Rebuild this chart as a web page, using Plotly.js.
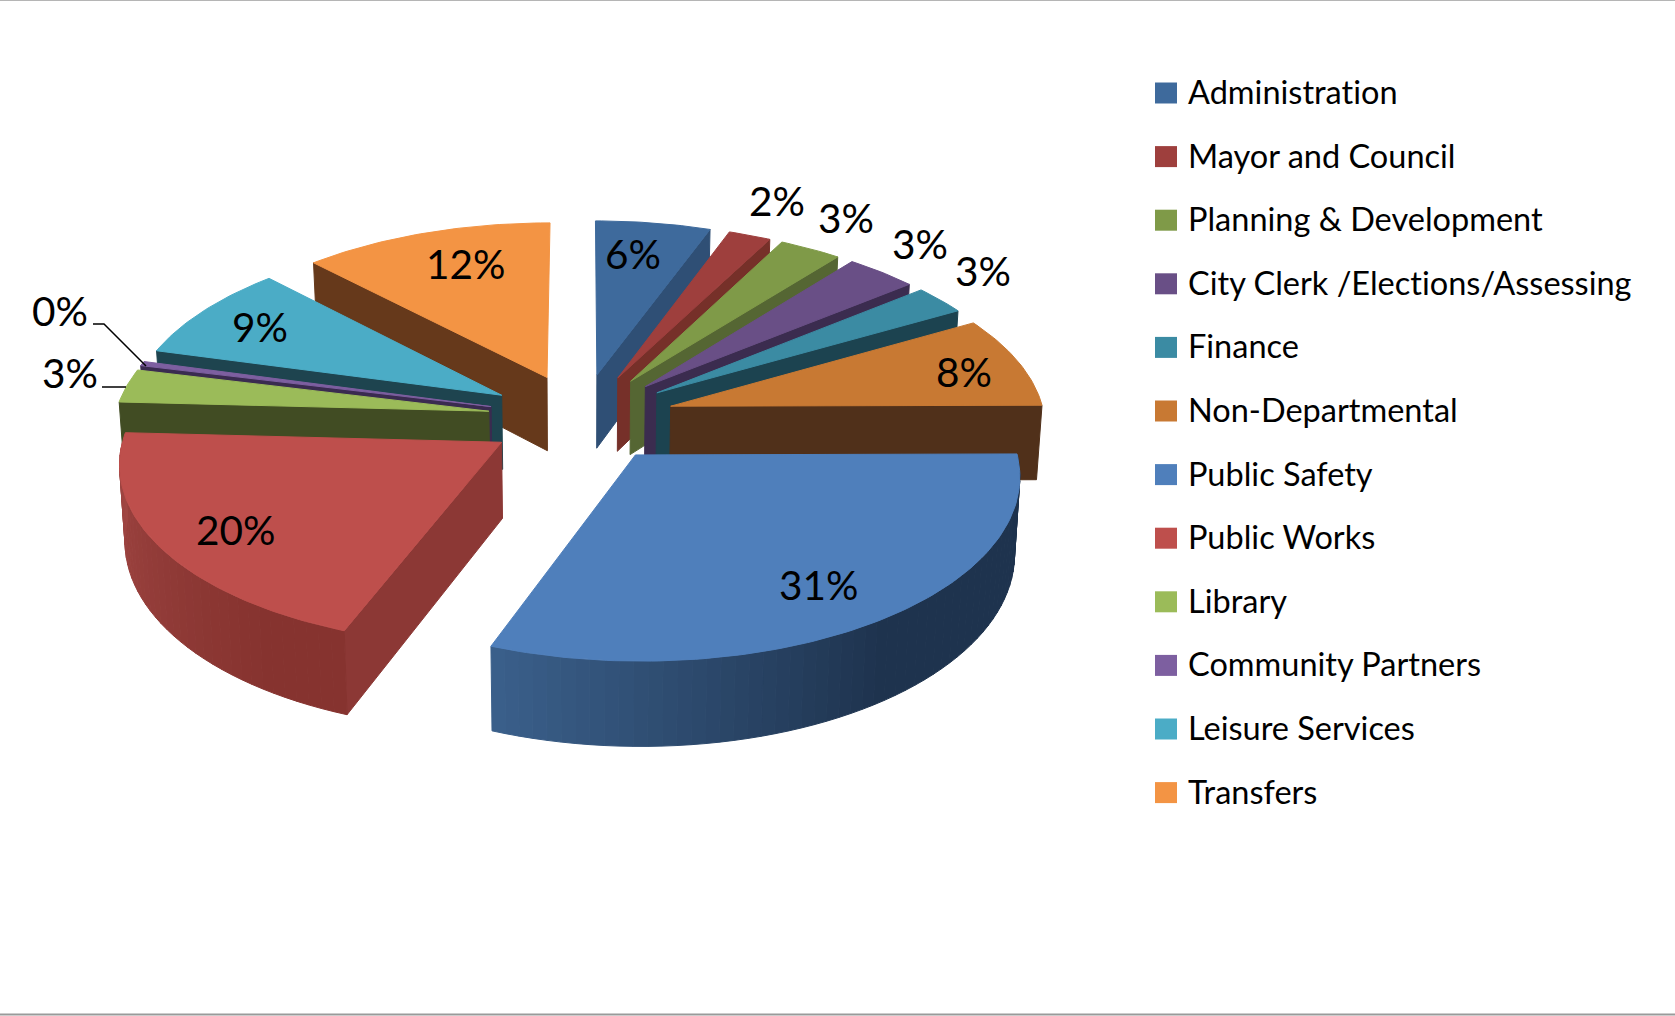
<!DOCTYPE html>
<html><head><meta charset="utf-8">
<script src="https://cdn.plot.ly/plotly-3.0.1.min.js"></script>
<style>html,body{margin:0;padding:0;background:#fff}#c{width:1675px;height:1016px}svg text{font-variant-ligatures:none;font-feature-settings:"liga" 0}</style>
</head><body><div id="c"></div>
<script>
// ---- data ----
const categories = ["Administration","Mayor and Council","Planning & Development","City Clerk /Elections/Assessing","Finance","Non-Departmental","Public Safety","Public Works","Library","Community Partners","Leisure Services","Transfers"];
const shares = [5.55,2.05,3.0,3.45,2.6,8.2,30.8,20.0,3.0,0.4,8.6,12.1];
// ---- styles ----
const topColors  = ["#3E6A9C","#9E3F3D","#7F9A48","#694F86","#3B8BA3","#C87933","#4F7FBB","#BE4F4C","#9BBB59","#7D5FA0","#4BACC6","#F39444"];
const wallColors = ["#2F4F75","#763029","#556633","#3B2C4F","#1C4350","#50301A","#1E334E","#8C3835","#414C23","#3A2B50","#1E444F","#66391B"];
const arcLight   = ["#2F4F75","#763029","#556633","#3B2C4F","#1C4350","#50301A","#3A5F8A","#A04643","#414C23","#3A2B50","#1E444F","#66391B"];
const arcDark    = ["#2F4F75","#763029","#556633","#3B2C4F","#1C4350","#50301A","#1E334E","#86332F","#414C23","#3A2B50","#1E444F","#66391B"];
const drawOrder  = [0,11,1,2,3,4,5,10,9,8,7,6];
const labelX = [633,777,846,920,983,964,818,235,70,60,260,465];
const labelY = [253,200,217,243,270,371,584,529,372,310,326,263];
// ---- projection of the exploded, tilted pie ----
const CX=581, CY=417.7, AX=374, BY=177.6, PERSP=0.1, DEPTH=75, EXPLODE=0.25, BOTTOM_X=0.988;
const total = shares.reduce((a,b)=>a+b,0);
const rad = d=>d*Math.PI/180;
function project(px,py,low){
  const w=1-PERSP*py;
  let X=CX+AX*px/w, Y=CY+BY*py/w;
  if(low){ X=CX+(X-CX)*BOTTOM_X; Y+=DEPTH/w; }
  return [X,Y];
}
function hex(c){return [1,3,5].map(i=>parseInt(c.substr(i,2),16));}
function mix(a,b,t){const A=hex(a),B=hex(b);return "rgb("+A.map((v,i)=>Math.round(v+(B[i]-v)*t)).join(",")+")";}
const traces=[];
function poly(pts,color,name){
  const xs=pts.map(p=>p[0]).concat(pts[0][0]), ys=pts.map(p=>p[1]).concat(pts[0][1]);
  traces.push({type:"scatter",mode:"lines",x:xs,y:ys,fill:"toself",fillcolor:color,line:{color:color,width:1},hoverinfo:"skip",showlegend:false,name:name});
}
let cum=0; const slices=shares.map((v,i)=>{const a0=cum/total*360; cum+=v; return {i,a0,a1:cum/total*360};});
drawOrder.forEach(i=>{
  const {a0,a1}=slices[i], mid=rad((a0+a1)/2);
  const ox=EXPLODE*Math.sin(mid), oy=-EXPLODE*Math.cos(mid);
  const rim=a=>[ox+Math.sin(rad(a)), oy-Math.cos(rad(a))];
  const name=categories[i];
  // visible cut walls
  if(Math.sin(rad(a1))>0){ const r=rim(a1);
    poly([project(ox,oy,0),project(r[0],r[1],0),project(r[0],r[1],1),project(ox,oy,1)],wallColors[i],name); }
  if(Math.sin(rad(a0))<0){ const r=rim(a0);
    poly([project(ox,oy,0),project(r[0],r[1],0),project(r[0],r[1],1),project(ox,oy,1)],wallColors[i],name); }
  // visible outer rim, split into shaded strips
  const s=Math.max(a0,90), e=Math.min(a1,270);
  if(e>s){
    const n=Math.max(1,Math.ceil((e-s)/2));
    for(let k=0;k<n;k++){
      const b0=s+(e-s)*k/n, b1=s+(e-s)*(k+1)/n;
      const t=Math.min(1,(e-b1)/55);
      const r0=rim(b0), r1=rim(b1);
      poly([project(r0[0],r0[1],0),project(r1[0],r1[1],0),project(r1[0],r1[1],1),project(r0[0],r0[1],1)],mix(arcLight[i],arcDark[i],t),name);
    }
  }
  // top face
  const pts=[project(ox,oy,0)];
  for(let a=a0;a<a1;a+=1){const r=rim(a);pts.push(project(r[0],r[1],0));}
  const r=rim(a1);pts.push(project(r[0],r[1],0));
  poly(pts,topColors[i],name);
});
// ---- pie labels ----
const annotations=shares.map((v,i)=>({x:labelX[i],y:labelY[i],xref:"x",yref:"y",text:Math.round(v)+"%",showarrow:false,xanchor:"center",yanchor:"middle",font:{family:"Lato, sans-serif",size:40.5,color:"#000"}}));
// ---- legend ----
const SWATCH_Y0=93, TEXT_Y0=91.5, LEG_DY=63.6;
const shapes=[];
categories.forEach((c,i)=>{
  const y=SWATCH_Y0+LEG_DY*i;
  shapes.push({type:"rect",xref:"x",yref:"y",x0:1155,x1:1177,y0:y-10.5,y1:y+10.5,fillcolor:topColors[i],line:{width:0}});
  annotations.push({x:1186,y:TEXT_Y0+LEG_DY*i,xref:"x",yref:"y",text:c,showarrow:false,xanchor:"left",yanchor:"middle",font:{family:"Lato, sans-serif",size:32.5,color:"#000"}});
});
// ---- leader lines and frame ----
shapes.push({type:"path",path:"M93 324 L104 324 L146 366",line:{color:"#000",width:1.5}});
shapes.push({type:"line",x0:102,x1:126,y0:387,y1:387,line:{color:"#000",width:1.5}});
shapes.push({type:"line",x0:0,x1:1675,y0:0.5,y1:0.5,line:{color:"#b5b5b5",width:1}});
shapes.push({type:"line",x0:0,x1:1675,y0:1014.5,y1:1014.5,line:{color:"#9a9a9a",width:2}});
Plotly.newPlot("c",traces,{
  width:1675,height:1016,margin:{l:0,r:0,t:0,b:0},paper_bgcolor:"#fff",plot_bgcolor:"#fff",showlegend:false,
  xaxis:{range:[0,1675],visible:false,fixedrange:true},
  yaxis:{range:[1016,0],visible:false,fixedrange:true},
  annotations,shapes
},{displayModeBar:false,staticPlot:true});
</script></body></html>
